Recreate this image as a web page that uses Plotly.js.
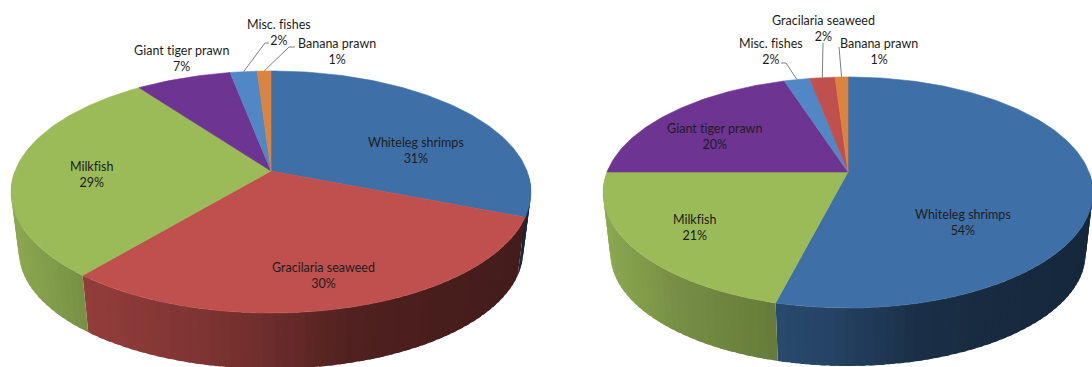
<!DOCTYPE html>
<html>
<head>
<meta charset="utf-8">
<script src="https://cdn.plot.ly/plotly-3.0.1.min.js"></script>
<style>
html,body{margin:0;padding:0;background:#fff}
#chart{width:1092px;height:367px}
#chart text{font-variant-ligatures:none !important;font-feature-settings:"liga" 0,"clig" 0,"dlig" 0 !important}
</style>
</head>
<body>
<div id="chart"></div>
<script>
// Category shares in percent, listed clockwise from twelve o'clock
const leftSpecies = ['Whiteleg shrimps', 'Gracilaria seaweed', 'Milkfish', 'Giant tiger prawn', 'Misc. fishes', 'Banana prawn'];
const leftShares = [31, 30, 29, 7, 2, 1];
const rightSpecies = ['Whiteleg shrimps', 'Milkfish', 'Giant tiger prawn', 'Misc. fishes', 'Gracilaria seaweed', 'Banana prawn'];
const rightShares = [54, 21, 20, 2, 2, 1];

const speciesColors = {
  'Whiteleg shrimps': [62, 112, 167],
  'Gracilaria seaweed': [192, 80, 77],
  'Milkfish': [155, 187, 89],
  'Giant tiger prawn': [110, 52, 146],
  'Misc. fishes': [82, 135, 198],
  'Banana prawn': [219, 132, 61]
};

// Perspective disc: a, b are the disc radii, k the foreshortening, depth the wall height
const leftDisc = { cx: 271, cy: 171, a: 256, b: 117.4, k: 0.1736, depth: 60, shrink: 0.97 };
const rightDisc = { cx: 848, cy: 172, a: 241, b: 111.9, k: 0.1775, depth: 62, shrink: 0.97 };

// Label centres: [x, y of the two-line block]
const leftLabels = {
  'Whiteleg shrimps': [416, 150], 'Gracilaria seaweed': [323, 275], 'Milkfish': [91, 174.5],
  'Giant tiger prawn': [181, 58], 'Misc. fishes': [279, 32], 'Banana prawn': [337, 51]
};
const rightLabels = {
  'Whiteleg shrimps': [963, 222.5], 'Milkfish': [694, 227.5], 'Giant tiger prawn': [714, 136.5],
  'Misc. fishes': [771, 51], 'Gracilaria seaweed': [823, 28.5], 'Banana prawn': [879, 51]
};
// Leader elbows running from the rim to a label
const leftLeaders = { 'Misc. fishes': [[265, 43], [269, 43]], 'Banana prawn': [[289, 47], [295, 47]] };
const rightLeaders = { 'Misc. fishes': [[786, 63], [781, 63]], 'Gracilaria seaweed': [[823, 43]], 'Banana prawn': [[839, 47]] };

const TAU = Math.PI * 2;
const STRIP = TAU / 180;

function project(d, theta, lower) {
  const u = Math.sin(theta), v = Math.cos(theta), w = 1 + d.k * v;
  const s = lower ? d.shrink : 1;
  return [d.cx + s * d.a * u / w, d.cy + (lower ? d.depth : 0) - s * d.b * v / w];
}

// Wall brightness falls off from the left of the disc towards the right
const shadeStops = [[0, 0.9], [0.15, 0.76], [0.35, 0.66], [0.46, 0.6], [0.65, 0.42], [0.8, 0.38], [1, 0.35]];
function shade(t) {
  for (let i = 1; i < shadeStops.length; i++) {
    if (t <= shadeStops[i][0]) {
      const [t0, s0] = shadeStops[i - 1], [t1, s1] = shadeStops[i];
      return s0 + (s1 - s0) * (t - t0) / (t1 - t0);
    }
  }
  return shadeStops[shadeStops.length - 1][1];
}

function polygon(xs, ys, color, edged) {
  return { type: 'scatter', mode: edged ? 'lines' : 'none', x: xs, y: ys, fill: 'toself', fillcolor: color,
    line: { color: color, width: edged ? 0.6 : 0 }, hoverinfo: 'skip', showlegend: false };
}

function buildPie(d, species, shares, labels, leaders) {
  const total = shares.reduce((p, c) => p + c, 0);
  const walls = [], faces = [], leaderTraces = [], notes = [];
  const halfWidth = d.a / Math.sqrt(1 - d.k * d.k);
  let acc = 0;
  species.forEach((name, i) => {
    const start = acc / total * TAU;
    acc += shares[i];
    const end = acc / total * TAU;
    const rgb = speciesColors[name];

    // Outer wall, cut into narrow strips that overlap the next one so no seam shows.
    // Only the near half of the disc shows a wall.
    const strips = Math.max(1, Math.ceil((end - start) / STRIP));
    for (let j = 0; j < strips; j++) {
      const a0 = start + (end - start) * j / strips;
      const a1 = start + (end - start) * (j + 1) / strips;
      const mid = (a0 + a1) / 2;
      if (Math.cos(mid) > -0.02) continue;
      const ext = Math.min(a1 + STRIP * 0.6, j === strips - 1 ? end : Infinity);
      const p = [project(d, a0), project(d, ext), project(d, ext, true), project(d, a0, true)];
      const f = shade((project(d, mid)[0] - (d.cx - halfWidth)) / (2 * halfWidth));
      const col = `rgb(${rgb.map(c => Math.round(c * f)).join(',')})`;
      walls.push({ order: acc * 1000 + j, x: p.map(q => q[0]).concat(p[0][0]), y: p.map(q => q[1]).concat(p[0][1]), col });
    }

    // Top face of the slice
    const xs = [d.cx], ys = [d.cy];
    const steps = Math.max(2, Math.ceil((end - start) / (TAU / 360)));
    for (let j = 0; j <= steps; j++) {
      const q = project(d, start + (end - start) * j / steps);
      xs.push(q[0]); ys.push(q[1]);
    }
    xs.push(d.cx); ys.push(d.cy);
    faces.push(polygon(xs, ys, `rgb(${rgb.join(',')})`, true));

    // Leader line from the middle of the slice's rim
    if (leaders[name]) {
      const rim = project(d, (start + end) / 2);
      leaderTraces.push({ type: 'scatter', mode: 'lines',
        x: [rim[0]].concat(leaders[name].map(q => q[0])),
        y: [rim[1]].concat(leaders[name].map(q => q[1])),
        line: { color: '#7f7f7f', width: 1 }, hoverinfo: 'skip', showlegend: false });
    }

    notes.push({ x: labels[name][0], y: labels[name][1], xref: 'x', yref: 'y',
      text: name + '<br>' + shares[i] + '%', showarrow: false, align: 'center',
      xanchor: 'center', yanchor: 'middle',
      font: { family: 'Lato, "Open Sans", sans-serif', size: 12.5, color: '#1d1d1d' } });
  });
  walls.sort((p, q) => p.order - q.order);
  return { traces: walls.map(w => polygon(w.x, w.y, w.col, false)).concat(faces, leaderTraces), notes };
}

const leftPie = buildPie(leftDisc, leftSpecies, leftShares, leftLabels, leftLeaders);
const rightPie = buildPie(rightDisc, rightSpecies, rightShares, rightLabels, rightLeaders);

const hiddenAxis = { visible: false, showgrid: false, zeroline: false, fixedrange: true };
Plotly.newPlot('chart', leftPie.traces.concat(rightPie.traces), {
  width: 1092, height: 367,
  margin: { l: 0, r: 0, t: 0, b: 0 },
  paper_bgcolor: '#ffffff', plot_bgcolor: '#ffffff',
  showlegend: false, hovermode: false,
  xaxis: Object.assign({ range: [0, 1092] }, hiddenAxis),
  yaxis: Object.assign({ range: [367, 0] }, hiddenAxis),
  annotations: leftPie.notes.concat(rightPie.notes)
}, { displayModeBar: false, staticPlot: true });
</script>
</body>
</html>
